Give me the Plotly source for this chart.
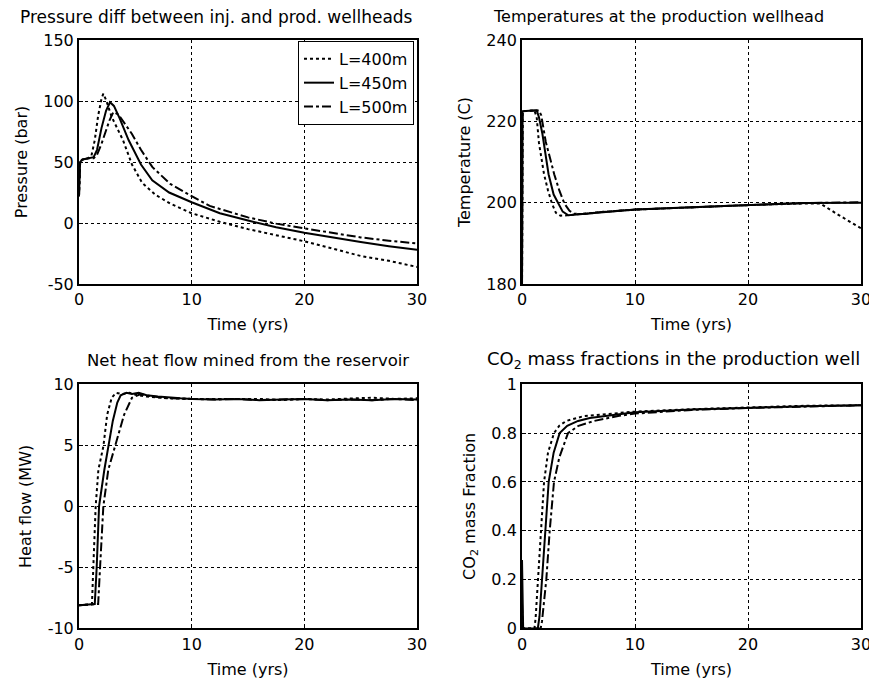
import plotly.graph_objects as go
from plotly.subplots import make_subplots

# 케이스 이름과 선 스타일
names = ["L=400m", "L=450m", "L=500m"]
dashes = ["dot", "solid", "dashdot"]

# 주입정/생산정 압력차 (bar)
t_p400 = [0, 0.05, 0.1, 0.3, 0.8, 1.1, 1.4, 1.7, 2.0, 2.16, 2.4, 2.9, 3.9, 4.7, 5.6, 6.8, 8.1, 10, 12.5, 15, 17.5, 20, 22.5, 25, 27.5, 30]
p400 = [22, 45, 50, 52, 53, 55, 68, 88, 102, 106, 101, 87, 68, 48, 33, 23, 16, 8, 1, -5, -10, -15, -21, -27, -31, -36]
t_p450 = [0, 0.05, 0.1, 0.3, 0.8, 1.3, 1.6, 2.0, 2.4, 2.75, 3.1, 3.6, 4.4, 5.5, 6.5, 8, 10, 12.5, 15, 17.5, 20, 22.5, 25, 27.5, 30]
p450 = [22, 45, 50, 52, 53, 54, 60, 78, 92, 99, 96, 86, 68, 48, 35, 25, 17, 8, 2, -3.5, -8, -12, -15.5, -19, -22]
t_p500 = [0, 0.05, 0.1, 0.3, 0.8, 1.3, 1.6, 2.0, 2.3, 2.7, 3.05, 3.5, 4.7, 5.5, 6.5, 8.1, 10, 11.6, 15, 17.5, 20, 22.5, 25, 27.5, 30]
p500 = [22, 45, 50, 52, 53, 53, 56, 65, 73, 84, 91, 89, 73, 60, 46, 32, 22, 14, 4.6, -0.5, -4.4, -8, -11.8, -14.5, -16.8]

# 생산정 온도 (C)
t_T400 = [0, 0.05, 1.1, 1.3, 1.5, 1.95, 2.3, 2.65, 3.0, 3.4, 4, 5, 7, 10, 15, 20, 25, 26.4, 28, 30]
T400 = [180, 222.5, 222.7, 221, 214.7, 207, 203, 199.8, 197.5, 196.8, 196.9, 197.2, 197.7, 198.3, 198.9, 199.4, 199.8, 199.8, 197, 193.7]
t_T450 = [0, 0.05, 1.3, 1.5, 1.8, 2.35, 2.8, 3.2, 3.6, 4.1, 5, 7, 10, 15, 20, 25, 30]
T450 = [180, 222.5, 222.7, 221, 217, 207, 202, 199.8, 197.8, 196.9, 197.1, 197.7, 198.3, 198.9, 199.4, 199.9, 200]
t_T500 = [0, 0.05, 1.5, 1.7, 2.1, 2.85, 3.3, 3.75, 4.2, 4.6, 5.5, 7, 10, 15, 20, 25, 30]
T500 = [180, 222.5, 222.7, 221.5, 215, 207, 203, 199.8, 198, 197.3, 197.2, 197.7, 198.3, 198.9, 199.4, 199.9, 200.1]

# 순 열유량 (MW)
t_Q400 = [0, 1.15, 1.27, 1.48, 1.72, 2.16, 2.5, 2.9, 3.3, 3.8, 4.5, 5.2, 6, 7, 8, 10, 12, 14, 16, 18, 20, 22, 24, 26, 28, 30]
Q400 = [-8.1, -8, -5, 0, 3, 4.9, 7.5, 8.9, 9.3, 9.2, 9.3, 9.1, 9.0, 8.9, 8.85, 8.8, 8.8, 8.75, 8.8, 8.7, 8.8, 8.75, 8.8, 8.9, 8.8, 8.85]
t_Q450 = [0, 1.4, 1.57, 1.78, 2.25, 2.6, 3.0, 3.4, 3.7, 4.2, 4.7, 5.3, 6, 7, 8, 9, 10, 12, 14, 16, 18, 20, 22, 24, 26, 28, 30]
Q450 = [-8.1, -8, -5, 0, 3, 4.9, 7, 8.5, 9.1, 9.3, 9.2, 9.3, 9.1, 9.0, 8.9, 8.85, 8.8, 8.75, 8.8, 8.7, 8.75, 8.8, 8.7, 8.75, 8.7, 8.8, 8.75]
t_Q500 = [0, 1.7, 1.87, 2.16, 2.6, 3.2, 3.6, 4.0, 4.7, 5.5, 6.5, 8, 10, 12, 14, 16, 18, 20, 22, 24, 26, 28, 30]
Q500 = [-8.1, -8, -5, 0, 3, 4.9, 6.3, 7.5, 8.9, 9.2, 9.0, 8.85, 8.8, 8.75, 8.8, 8.7, 8.75, 8.8, 8.7, 8.75, 8.7, 8.8, 8.7]

# 생산정 CO2 질량분율
t_f400 = [0, 1.1, 1.2, 1.42, 1.65, 1.95, 2.3, 2.83, 3.3, 3.92, 5.5, 8, 10, 15, 20, 25, 30]
f400 = [0, 0, 0.04, 0.2, 0.4, 0.6, 0.72, 0.8, 0.83, 0.85, 0.87, 0.88, 0.888, 0.898, 0.906, 0.912, 0.914]
t_f450 = [0, 0.05, 0.1, 1.4, 1.55, 1.77, 2.06, 2.36, 2.8, 3.33, 4.0, 4.96, 6, 8.2, 10, 15, 20, 25, 30]
f450 = [0.28, 0.01, 0, 0, 0.05, 0.2, 0.4, 0.6, 0.72, 0.8, 0.83, 0.85, 0.862, 0.875, 0.885, 0.897, 0.905, 0.91, 0.914]
t_f500 = [0, 0.03, 0.06, 1.65, 1.77, 2.15, 2.45, 2.83, 3.3, 4.07, 5, 6.4, 8.5, 10, 15, 20, 25, 30]
f500 = [0.1, 0.02, 0, 0, 0.03, 0.2, 0.4, 0.6, 0.7, 0.8, 0.83, 0.85, 0.87, 0.88, 0.895, 0.903, 0.91, 0.914]

panels = [
    (1, 1, [(t_p400, p400), (t_p450, p450), (t_p500, p500)]),
    (1, 2, [(t_T400, T400), (t_T450, T450), (t_T500, T500)]),
    (2, 1, [(t_Q400, Q400), (t_Q450, Q450), (t_Q500, Q500)]),
    (2, 2, [(t_f400, f400), (t_f450, f450), (t_f500, f500)]),
]

font = "DejaVu Sans"
fig = make_subplots(rows=2, cols=2)

for row, col, series in panels:
    for i, (t, v) in enumerate(series):
        fig.add_trace(go.Scatter(
            x=t, y=v, mode="lines", name=names[i],
            line=dict(color="black", width=2, dash=dashes[i]),
            showlegend=(row == 1 and col == 1),
        ), row=row, col=col)

# 축 공통 스타일
axis_style = dict(
    showline=True, mirror=True, linecolor="black", linewidth=2,
    showgrid=True, gridcolor="black", gridwidth=1, griddash="3px,3px",
    zeroline=False, ticks="inside", ticklen=4, tickcolor="black",
    tickfont=dict(family=font, size=16, color="black"),
    automargin=False,
)

# 페이지 body 여백(8px)을 뺀 좌표 기준
xdom = {1: [0.0817, 0.4707], 2: [0.5915, 0.9816]}
ydom = {1: [0.5923, 0.9527], 2: [0.0835, 0.4442]}

yranges = {
    (1, 1): ([-50, 150], [-50, 0, 50, 100, 150], ["-50", "0", "50", "100", "150"], "Pressure (bar)"),
    (1, 2): ([180, 240], [180, 200, 220, 240], ["180", "200", "220", "240"], "Temperature (C)"),
    (2, 1): ([-10, 10], [-10, -5, 0, 5, 10], ["-10", "-5", "0", "5", "10"], "Heat flow (MW)"),
    (2, 2): ([0, 1], [0, 0.2, 0.4, 0.6, 0.8, 1], ["0", "0.2", "0.4", "0.6", "0.8", "1"], "CO<sub>2</sub> mass Fraction"),
}

for (row, col), (rng, tv, tt, label) in yranges.items():
    fig.update_xaxes(axis_style, range=[0, 30], tickvals=[0, 10, 20, 30],
                     domain=xdom[col],
                     title=dict(text="Time (yrs)", standoff=11,
                                font=dict(family=font, size=16, color="black")),
                     row=row, col=col)
    fig.update_yaxes(axis_style, range=rng, tickvals=tv, ticktext=tt,
                     domain=ydom[row],
                     title=dict(text=label, standoff=12,
                                font=dict(family=font, size=16, color="black")),
                     row=row, col=col)

# 서브플롯 제목 (왼쪽 정렬 위치)
titles = [
    ("Pressure diff between inj. and prod. wellheads", 0.0115, 0.987, 17),
    ("Temperatures at the production wellhead", 0.5558, 0.987, 16),
    ("Net heat flow mined from the reservoir", 0.0886, 0.4800, 16.5),
    ("CO<sub>2</sub> mass fractions in the production well", 0.5489, 0.4800, 18),
]
for text, x, y, size in titles:
    fig.add_annotation(text=text, x=x, y=y, xref="paper", yref="paper",
                       xanchor="left", yanchor="middle", showarrow=False,
                       font=dict(family=font, size=size, color="black"))

fig.update_layout(
    width=869, height=677,
    margin=dict(l=0, r=0, t=0, b=0, autoexpand=False),
    paper_bgcolor="white", plot_bgcolor="white",
    font=dict(family=font, size=16, color="black"),
    legend=dict(
        x=0.4672, y=0.9513, xanchor="right", yanchor="top",
        bordercolor="black", borderwidth=1, bgcolor="white",
        font=dict(family=font, size=16, color="black"),
    ),
)

fig.write_html("out.html")
